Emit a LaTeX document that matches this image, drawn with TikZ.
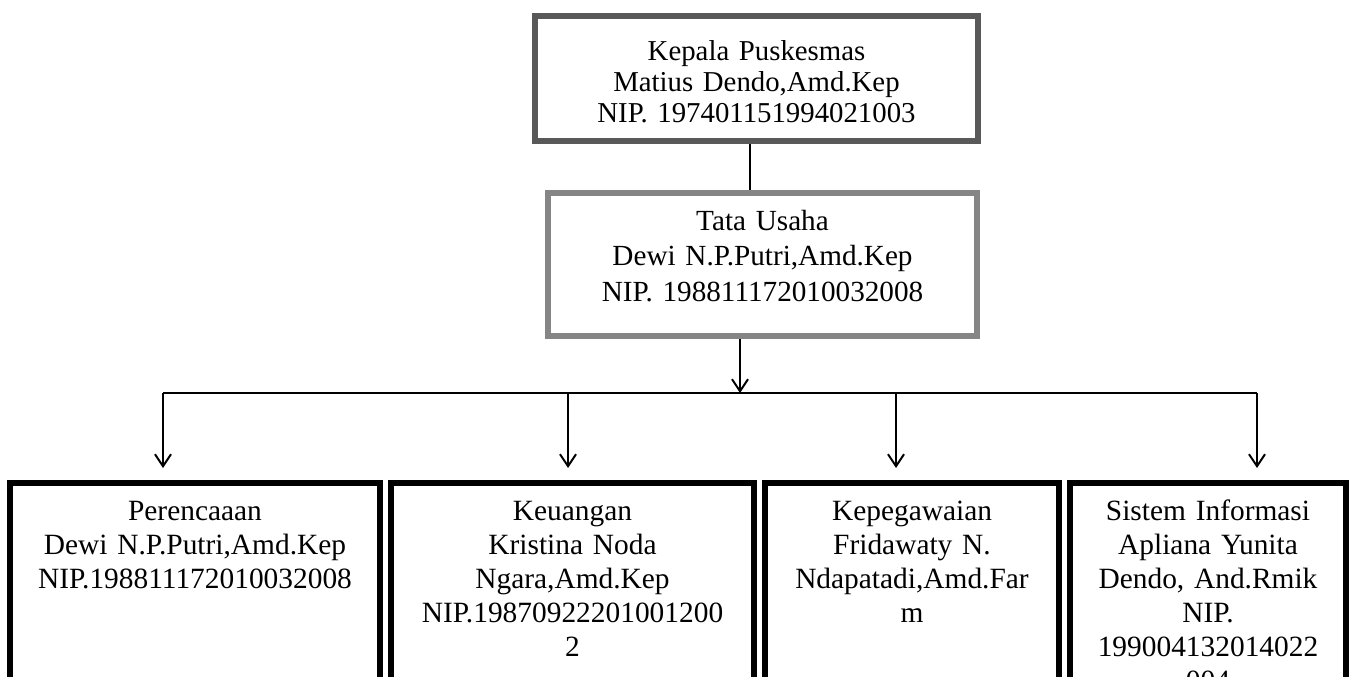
\documentclass[tikz,border=0pt]{standalone}
\usepackage{fontspec}
\setmainfont{Liberation Serif}
\usetikzlibrary{arrows.meta}
\definecolor{headgray}{RGB}{89,89,89}
\definecolor{staffgray}{RGB}{133,133,133}

\begin{document}
\begin{tikzpicture}[x=0.5pt,y=-0.5pt,
  box/.style={draw,line width=3pt,anchor=north,align=center,inner xsep=0pt,inner ysep=0pt,text width=#1},
  unit/.style={box=#1,text height=18.5pt,text depth=170pt,font=\fontsize{14.7}{17}\selectfont},
  link/.style={line width=1pt},
  arrow/.style={line width=1pt,-{Straight Barb[length=6pt,width=8pt]}}]
\useasboundingbox (0,0) rectangle (1353,676);
\fill[white] (0,0) rectangle (1353,676);
\clip (0,0) rectangle (1353,676);

% head and administration
\node[box=221.5pt,draw=headgray,text height=22pt,text depth=40.5pt,font=\fontsize{14.4}{15.5}\selectfont] (head) at (756.5,13)
  {Kepala Puskesmas\\ Matius Dendo,Amd.Kep\\ NIP. 197401151994021003};
\node[box=214.5pt,draw=staffgray,text height=18.5pt,text depth=53pt,font=\fontsize{14.6}{17.75}\selectfont] (tu) at (762.5,190)
  {Tata Usaha\\ Dewi N.P.Putri,Amd.Kep\\ NIP. 198811172010032008};

% units
\node[unit=185pt] (plan) at (195,480)
  {Perencaaan\\ Dewi N.P.Putri,Amd.Kep\\ NIP.198811172010032008};
\node[unit=181.5pt] (fin) at (572.5,480)
  {Keuangan\\ Kristina Noda\\ Ngara,Amd.Kep\\ NIP.19870922201001200\\ 2};
\node[unit=147pt] (staff) at (912,480)
  {Kepegawaian\\ Fridawaty N.\\ Ndapatadi,Amd.Far\\ m};
\node[unit=138pt] (info) at (1208,480)
  {Sistem Informasi\\ Apliana Yunita\\ Dendo, And.Rmik\\ NIP.\\ 199004132014022\\ 004};

% connectors
\coordinate (stem) at (750,0);
\coordinate (join) at (740,393);
\coordinate (drop1) at (163,393);
\coordinate (drop2) at (568,393);
\coordinate (drop3) at (896,393);
\coordinate (drop4) at (1257,393);
\draw[link] (head.south -| stem) -- (tu.north -| stem);
\draw[arrow] (tu.south -| join) -- (join);
\draw[link,line width=1.3pt] (drop1) -- (drop4);
\foreach \n/\b in {1/plan,2/fin,3/staff,4/info}
  \draw[arrow,shorten >=6pt] (drop\n) -- (drop\n |- \b.north);

\end{tikzpicture}
\end{document}
